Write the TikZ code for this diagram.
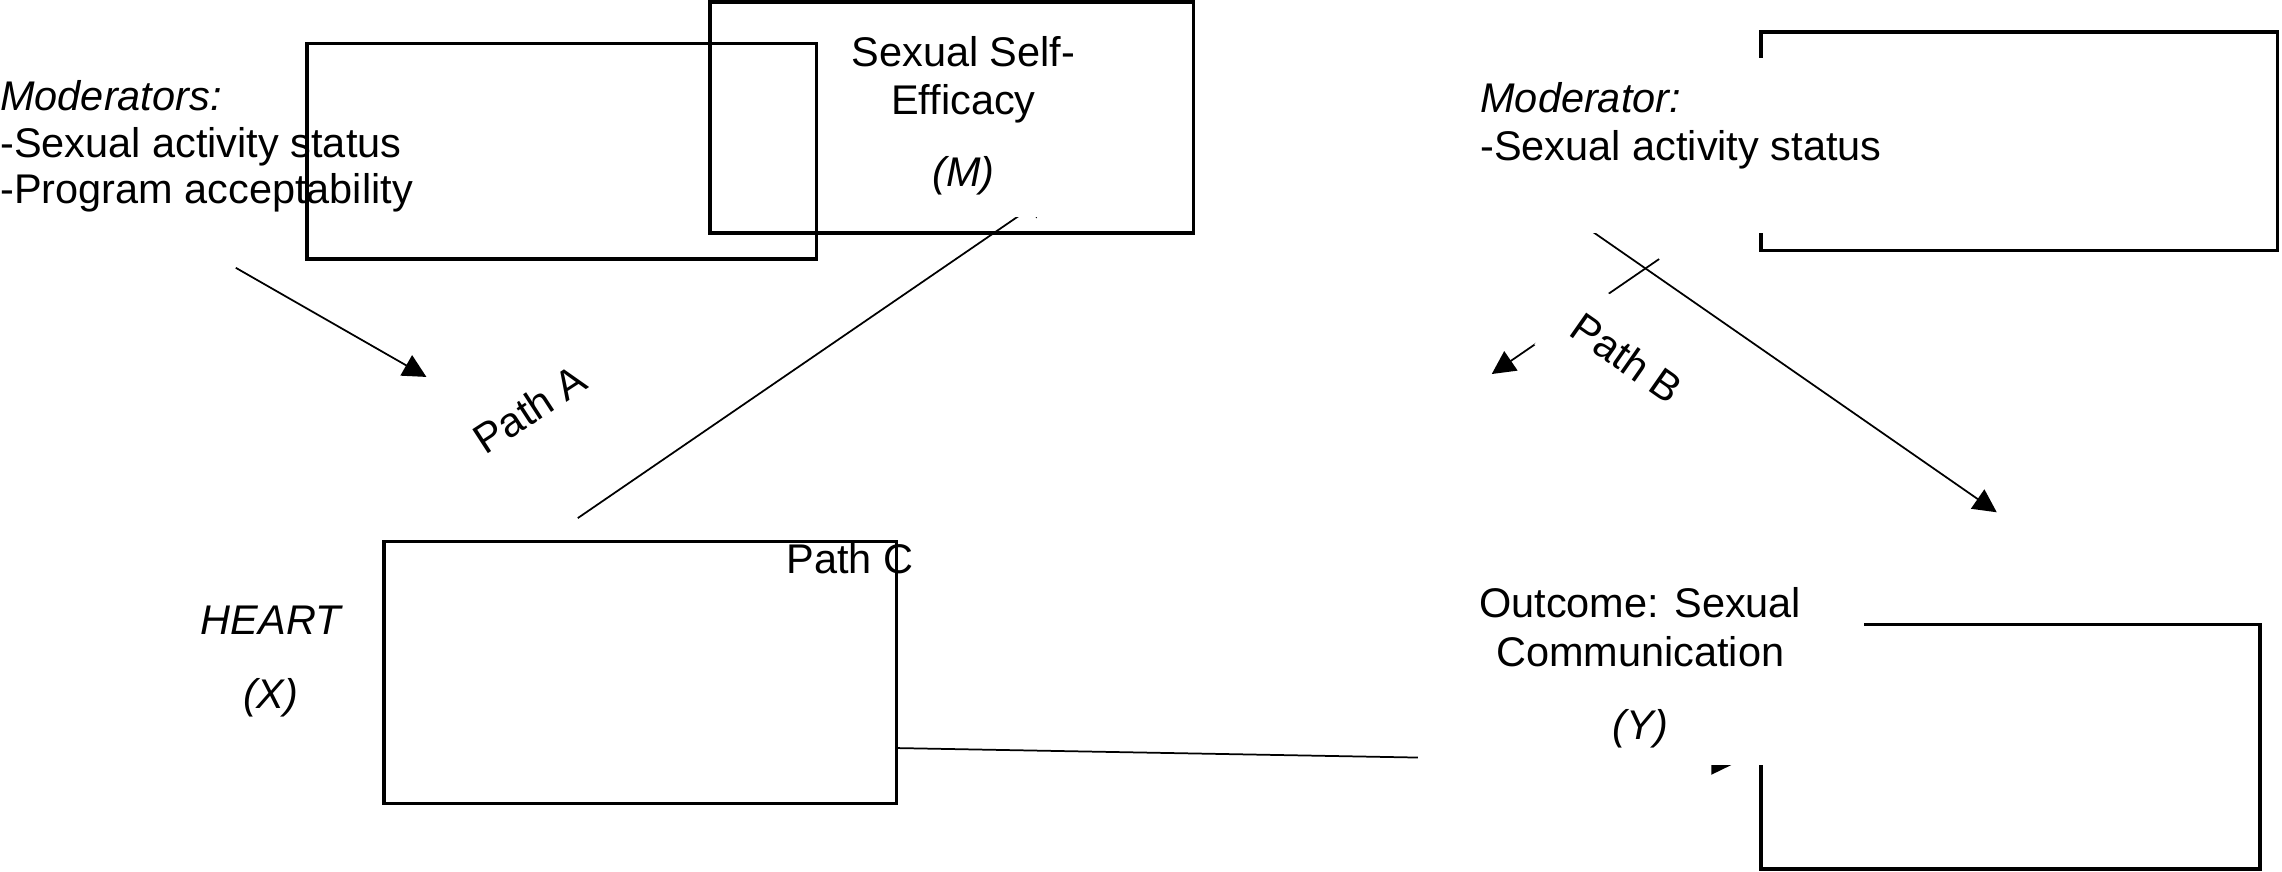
\documentclass[tikz,border=0pt]{standalone}
\usepackage{fontspec}
\setmainfont{Liberation Sans}
\usetikzlibrary{arrows.meta}
\begin{document}
\begin{tikzpicture}[x=1pt,y=-1pt,
  box/.style={line width=2.5pt},
  conn/.style={line width=1.2pt},
  arr/.style={conn,-{Triangle[length=16pt,width=16pt]}},
  mask/.style={fill=white},
  lbl/.style={inner sep=0pt,font=\fontsize{28.5}{32}\selectfont},
]
\useasboundingbox (0,0) rectangle (1568,599);
% boxes
\draw[box] (211,30) rectangle (561,178);
\draw[box] (488,1.5) rectangle (820,160);
\draw[box] (1210,22) rectangle (1565,172);
\draw[box] (264,372) rectangle (616,552);
\draw[box] (1210,429) rectangle (1553,597);
% connector end points
\coordinate (a1s) at (162,184);
\coordinate (a1e) at (293,259);
\coordinate (pas) at (397,356);
\coordinate (pae) at (720.7,134.2);
\coordinate (pbs) at (1081,150);
\coordinate (pbe) at (1372,352);
\coordinate (a2s) at (1140,178);
\coordinate (a2e) at (1025,257);
\coordinate (pcs) at (616,514);
\coordinate (pce) at (1192,524.5);
\draw[arr] (a1s) -- (a1e);
\draw[arr] (pas) -- (pae);
\draw[arr] (pbs) -- (pbe);
\draw[arr] (a2s) -- (a2e);
\draw[arr] (pcs) -- (pce);
% masks behind text blocks
\fill[mask] (575,11) rectangle (750,149);
\fill[mask] (1005,40) rectangle (1300,160);
\fill[mask] (974,394) rectangle (1281,525.8);
% texts
\node[lbl,anchor=base west] (modL1) at (0,76) {\itshape Moderators:};
\node[lbl,anchor=base west] (modL2) at (0,108.5) {-Sexual activity status};
\node[lbl,anchor=base west] (modL3) at (0,140) {-Program acceptability};
\node[lbl,anchor=base] (m1) at (662,46) {Sexual Self-};
\node[lbl,anchor=base] (m2) at (662,79) {Efficacy};
\node[lbl,anchor=base] (m3) at (662,128) {\itshape (M)};
\node[lbl,anchor=base west] (modR1) at (1017,77) {\itshape Moderator:};
\node[lbl,anchor=base west] (modR2) at (1017,110) {-Sexual activity status};
\node[lbl,anchor=base] (x1) at (186,436) {\itshape HEART};
\node[lbl,anchor=base] (x2) at (186,487) {\itshape (X)};
\node[lbl,anchor=base] (pc) at (584,394) {Path C};
\node[lbl,anchor=base] (y1) at (1127,424) {Outcome: Sexual};
\node[lbl,anchor=base] (y2) at (1127,458) {Communication};
\node[lbl,anchor=base] (y3) at (1127,508) {\itshape (Y)};
\node[lbl,rotate=33] (pa) at (364,281) {Path A};
\node[lbl,rotate=-35,fill=white,minimum width=115pt,minimum height=58pt] (pb) at (1118,246) {Path B};
\end{tikzpicture}
\end{document}
